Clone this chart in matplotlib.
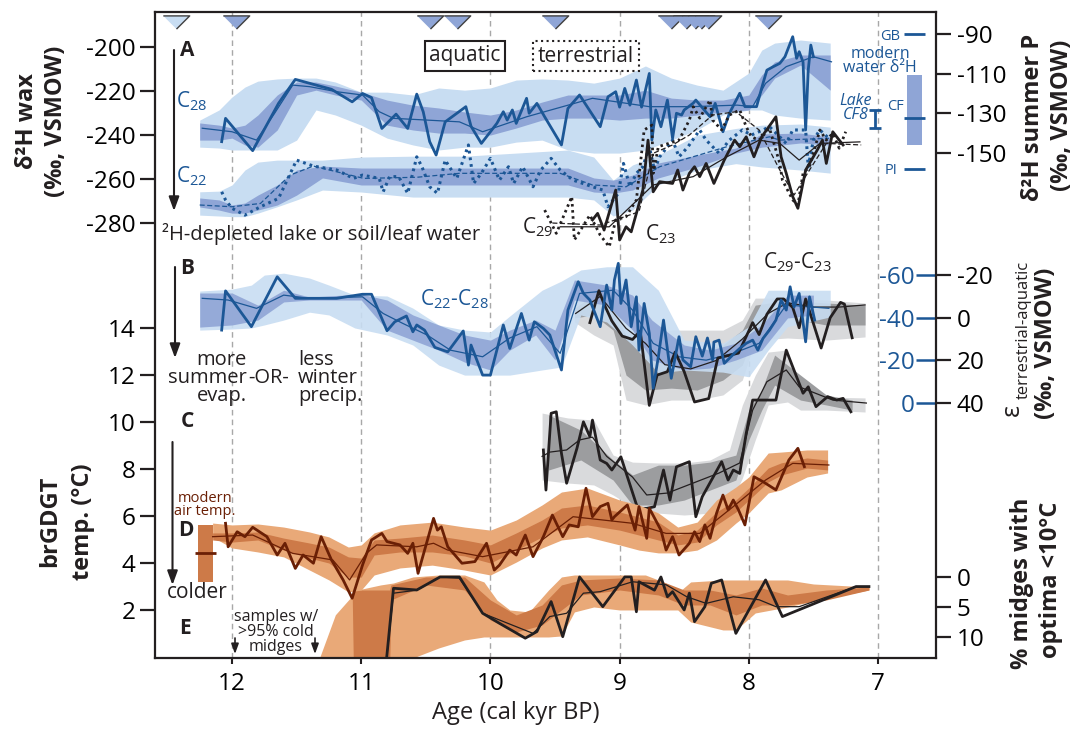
import numpy as np
import matplotlib
matplotlib.use("Agg")
import matplotlib.pyplot as plt

plt.rcParams['font.family'] = ['Open Sans', 'DejaVu Sans']
plt.rcParams['mathtext.fontset'] = 'custom'
plt.rcParams['mathtext.rm'] = 'Open Sans'
plt.rcParams['mathtext.it'] = 'Open Sans:italic'
plt.rcParams['mathtext.bf'] = 'Open Sans:bold'
plt.rcParams['axes.unicode_minus'] = False

BLUE = '#1c5796'
LBLUE = '#c8ddf2'
DBLUE = '#8fa5d6'
BLACK = '#231f20'
LGRAY = '#d9dadc'
DGRAY = '#9c9d9f'
LORANGE = '#e9a978'
DORANGE = '#cd7a48'
BROWN = '#6a1f05'

# ---------------- data (age kyr BP, value) ----------------
# A: d2H wax, aquatic C28 and C22
c28 = [(12.08, -243.0), (12.05, -232.4), (11.84, -247.1), (11.64, -225.6), (11.51, -214.7),
       (11.23, -219.2), (11.07, -224.9), (10.99, -221.1), (10.92, -223.0), (10.84, -237.0),
       (10.73, -230.5), (10.64, -237.0), (10.57, -221.4), (10.52, -229.4), (10.47, -243.0),
       (10.42, -249.1), (10.35, -234.0), (10.19, -227.1), (10.15, -236.0), (10.07, -243.8),
       (9.95, -234.7), (9.90, -229.4), (9.87, -233.2), (9.83, -228.6), (9.80, -234.7),
       (9.72, -223.3), (9.70, -230.1), (9.64, -225.6), (9.58, -231.7), (9.45, -244.5),
       (9.40, -227.9), (9.31, -221.8), (9.15, -236.2), (9.09, -222.6), (9.03, -220.3),
       (9.00, -227.3), (8.96, -218.8), (8.92, -226.4), (8.87, -215.0), (8.83, -227.3),
       (8.77, -212.0), (8.75, -242.3), (8.72, -228.6), (8.68, -236.2), (8.63, -224.1),
       (8.59, -241.5), (8.56, -230.1), (8.52, -230.9), (8.50, -228.6), (8.43, -225.5),
       (8.41, -224.1), (8.30, -231.7), (8.26, -225.6), (8.20, -238.5), (8.15, -230.1),
       (8.07, -221.0), (8.03, -227.1), (7.94, -227.1), (7.89, -216.5), (7.86, -210.5),
       (7.81, -208.9), (7.76, -207.4), (7.72, -204.4), (7.66, -195.3), (7.63, -205.1),
       (7.61, -202.1), (7.58, -206.8), (7.56, -237.7), (7.54, -210.5), (7.52, -199.1),
       (7.50, -204.4)]
c28_med = [(12.23, -236.9), (12.00, -238.5), (11.81, -242.3), (11.67, -230.1), (11.53, -217.3),
           (11.40, -218.0), (11.19, -220.3), (10.99, -221.8), (10.86, -229.4), (10.75, -232.4),
           (10.49, -233.2), (10.24, -234.0), (10.06, -238.5), (9.72, -231.7), (9.21, -223.3),
           (8.77, -227.1), (8.44, -227.1), (8.09, -226.4), (7.97, -227.1), (7.87, -216.5),
           (7.71, -208.9), (7.50, -204.4), (7.36, -206.7)]
# age, outer top, outer bottom, inner top, inner bottom
c28_band = [(12.25, -233.2, -245.5, -234.5, -242.3), (12.10, -228.6, -245.9, -235.5, -242.3),
            (12.00, -222.7, -246.8, -236.8, -241.4), (11.90, -218.2, -246.8, -235.5, -244.5),
            (11.80, -215.5, -246.8, -230.9, -245.5), (11.65, -214.5, -246.8, -221.8, -237.7),
            (11.50, -214.1, -242.3, -215.9, -221.8), (11.35, -214.1, -228.6, -215.9, -219.6),
            (11.20, -215.9, -230.9, -217.7, -221.8), (11.00, -220.5, -235.5, -220.5, -224.1),
            (10.80, -220.5, -241.4, -224.1, -235.5), (10.60, -221.8, -244.5, -226.4, -237.7),
            (10.40, -218.6, -246.8, -227.7, -239.1), (10.20, -219.6, -245.5, -229.5, -239.1),
            (10.00, -218.6, -245.5, -230.9, -240.0), (9.80, -215.0, -243.2, -228.6, -236.8),
            (9.60, -214.5, -242.3, -225.0, -233.2), (9.40, -215.0, -246.8, -221.8, -232.3),
            (9.20, -216.4, -248.2, -221.8, -232.3), (9.00, -214.1, -248.2, -221.8, -233.2),
            (8.80, -208.6, -246.8, -219.6, -232.3), (8.60, -214.1, -242.3, -223.2, -232.3),
            (8.40, -217.3, -237.7, -224.1, -230.9), (8.20, -219.6, -230.9, -224.1, -229.5),
            (8.00, -211.8, -228.6, -221.8, -228.6), (7.90, -201.4, -228.6, -212.7, -221.8),
            (7.80, -198.2, -230.9, -206.8, -214.1), (7.60, -196.8, -232.3, -203.6, -208.2),
            (7.37, -198.2, -233.2, -203.6, -219.6)]

c22 = [(12.08, -265.8), (12.05, -269.5), (12.00, -273.3), (11.90, -276.4), (11.78, -272.6),
       (11.64, -268.8), (11.50, -251.4), (11.37, -254.1), (11.19, -255.9), (11.06, -259.7),
       (10.99, -258.2), (10.86, -259.7), (10.83, -265.8), (10.78, -258.9), (10.71, -258.9),
       (10.64, -266.5), (10.57, -249.9), (10.53, -254.4), (10.47, -263.5), (10.41, -266.5),
       (10.35, -251.4), (10.26, -259.7), (10.17, -244.5), (10.13, -262.0), (10.07, -257.4),
       (10.00, -250.6), (9.93, -260.5), (9.86, -254.4), (9.82, -262.0), (9.75, -254.4),
       (9.67, -263.5), (9.61, -255.9), (9.53, -250.6), (9.46, -255.9), (9.36, -260.5),
       (9.21, -263.5), (9.13, -265.0), (9.09, -272.6), (9.01, -266.5), (8.97, -252.9),
       (8.92, -263.5), (8.87, -257.4), (8.82, -254.4), (8.77, -245.3), (8.73, -255.9),
       (8.69, -249.9), (8.59, -242.3), (8.54, -249.9), (8.47, -245.3), (8.38, -237.7),
       (8.33, -242.3), (8.23, -248.3), (8.15, -242.3), (8.05, -237.7), (7.98, -240.0),
       (7.89, -237.7), (7.84, -236.2), (7.71, -243.8), (7.66, -237.7), (7.56, -237.7),
       (7.54, -254.4), (7.50, -242.3), (7.45, -237.7), (7.38, -241.5)]
c22_med = [(12.25, -271.8), (12.00, -272.6), (11.78, -271.1), (11.55, -258.2), (11.37, -254.1),
           (11.19, -256.7), (10.98, -259.7), (10.57, -259.2), (10.24, -257.4), (9.46, -257.4),
           (9.21, -262.7), (8.95, -263.5), (8.69, -254.4), (8.17, -245.3), (7.84, -240.8),
           (7.76, -242.3), (7.38, -241.5)]
c22_band = [(12.25, -265.8, -276.4, -268.6, -272.7), (12.10, -265.5, -276.8, -269.5, -274.1),
            (12.00, -262.7, -277.1, -271.8, -275.5), (11.90, -255.9, -277.1, -270.9, -275.5),
            (11.80, -252.3, -275.5, -267.3, -274.1), (11.65, -251.4, -272.6, -262.7, -271.8),
            (11.50, -251.4, -269.5, -255.9, -267.3), (11.30, -251.4, -265.0, -254.1, -259.5),
            (11.00, -250.0, -265.9, -255.0, -262.7), (10.60, -249.6, -268.2, -255.0, -262.7),
            (10.20, -249.6, -268.2, -255.0, -262.7), (9.80, -248.2, -268.2, -255.0, -262.7),
            (9.40, -246.8, -268.2, -255.0, -262.7), (9.20, -250.0, -269.5, -259.5, -265.9),
            (9.05, -260.5, -276.8, -260.5, -266.4), (8.90, -253.6, -274.1, -258.2, -265.0),
            (8.70, -249.1, -262.7, -252.7, -259.5), (8.40, -240.0, -256.0, -249.1, -254.5),
            (8.10, -237.0, -253.0, -245.9, -248.2), (7.90, -235.5, -254.5, -239.5, -245.5),
            (7.60, -235.0, -255.9, -239.1, -243.6), (7.37, -236.4, -257.3, -240.9, -244.5)]

# A: terrestrial C29 (dotted) and C23 (solid)
c29 = [(9.58, -274.1), (9.49, -284.7), (9.37, -268.0), (9.35, -287.7), (9.23, -276.4),
       (9.15, -285.5), (9.08, -290.8), (9.03, -278.6), (8.95, -277.1), (8.87, -269.5),
       (8.81, -237.7), (8.75, -235.5), (8.74, -257.4), (8.70, -245.3), (8.54, -242.3),
       (8.46, -233.2), (8.43, -227.1), (8.38, -232.3), (8.30, -224.1), (8.28, -233.2),
       (8.21, -237.7), (8.15, -230.9), (8.07, -228.6), (8.02, -236.2), (7.98, -240.8),
       (7.92, -242.3), (7.84, -236.9), (7.76, -252.9), (7.74, -260.5), (7.66, -269.5),
       (7.62, -271.8), (7.58, -257.4), (7.53, -254.4), (7.45, -237.7), (7.40, -242.3),
       (7.35, -239.2), (7.30, -246.0), (7.25, -238.5)]
c29_med = [(9.52, -280.0), (9.15, -280.9), (8.85, -274.9), (8.74, -248.3), (8.59, -244.5),
           (8.46, -240.0), (8.28, -230.9), (8.10, -229.4), (7.92, -237.7), (7.76, -255.9),
           (7.65, -267.3), (7.53, -255.9), (7.40, -243.8), (7.13, -244.5)]
c23 = [(9.21, -278.6), (9.17, -275.6), (9.12, -283.2), (9.03, -265.0), (9.00, -287.7),
       (8.95, -281.7), (8.91, -284.0), (8.87, -275.6), (8.82, -265.0), (8.78, -242.3),
       (8.74, -265.8), (8.69, -261.2), (8.59, -262.0), (8.55, -255.9), (8.51, -265.0),
       (8.46, -257.4), (8.42, -254.4), (8.38, -258.9), (8.33, -252.9), (8.27, -262.0),
       (8.19, -251.4), (8.11, -242.3), (8.07, -245.3), (8.02, -240.8), (7.96, -249.9),
       (7.90, -240.8), (7.79, -231.7), (7.75, -249.9), (7.71, -257.4), (7.66, -268.0),
       (7.62, -273.3), (7.56, -255.9), (7.53, -252.9), (7.47, -246.8), (7.43, -242.3),
       (7.40, -252.9), (7.35, -238.5), (7.30, -242.3), (7.27, -244.5)]
c23_med = [(9.46, -281.7), (9.08, -281.7), (8.74, -262.7), (8.43, -258.9), (8.17, -249.9),
           (7.92, -242.3), (7.76, -243.8), (7.61, -251.4), (7.45, -243.8), (7.14, -243.1)]

# A right axis: modern water d2H (summer P)
gb_val, cf_val, pi_val = -90.0, -132.6, -158.4
cf_range = (-146.1, -110.7)
cf8_val, cf8_err = -132.9, 4.5

# top triangles: dated levels
tri_ages = [12.435, 11.97, 10.47, 10.26, 9.50, 8.60, 8.484, 8.42, 8.368, 8.316, 7.852]

# B: C22-C28 (blue) and C29-C23 (black), permil
b_blue = [(12.08, -34.2), (12.05, -52.6), (11.85, -35.8), (11.65, -59.2), (11.51, -49.1),
          (11.19, -49.1), (10.99, -51.0), (10.92, -51.0), (10.80, -33.9), (10.74, -38.1),
          (10.65, -40.8), (10.60, -33.4), (10.57, -36.6), (10.51, -34.2), (10.43, -26.1),
          (10.33, -24.0), (10.21, -33.8), (10.17, -17.8), (10.15, -27.2), (10.06, -13.1),
          (10.00, -13.1), (9.90, -36.6), (9.85, -25.6), (9.76, -42.0), (9.70, -29.5),
          (9.66, -38.1), (9.59, -35.0), (9.54, -31.9), (9.45, -15.5), (9.40, -43.6),
          (9.32, -56.9), (9.28, -51.4), (9.23, -48.3), (9.15, -35.8), (9.10, -55.3),
          (9.06, -43.6), (9.04, -57.7), (9.01, -65.5), (8.99, -46.7), (8.95, -57.7),
          (8.91, -35.8), (8.87, -49.8), (8.85, -24.8), (8.81, -46.7), (8.77, -32.7),
          (8.74, -6.9), (8.70, -21.7), (8.66, -38.9), (8.60, -11.6), (8.54, -31.1),
          (8.51, -20.2), (8.45, -17.0), (8.41, -31.1), (8.36, -22.0), (8.32, -30.5),
          (8.28, -20.2), (8.27, -28.6), (8.23, -29.5), (8.19, -18.6), (8.11, -23.4),
          (8.07, -25.6), (8.02, -28.0), (7.97, -29.5), (7.93, -24.8), (7.89, -30.3),
          (7.84, -34.2), (7.79, -38.9), (7.75, -48.3), (7.71, -43.6), (7.68, -54.5),
          (7.65, -45.0), (7.61, -51.4), (7.56, -28.7), (7.53, -49.8), (7.49, -38.9)]
b_blue_med = [(12.23, -49.1), (12.03, -48.3), (11.81, -44.4), (11.60, -50.6), (11.40, -49.1),
              (10.99, -49.8), (10.83, -42.0), (10.68, -37.4), (10.49, -31.9), (10.31, -24.8),
              (10.06, -21.7), (9.85, -30.5), (9.64, -35.8), (9.46, -23.3), (9.31, -51.4),
              (9.05, -52.9), (8.90, -43.6), (8.74, -28.0), (8.54, -21.7), (8.33, -20.1),
              (8.12, -23.3), (7.92, -28.0), (7.71, -46.0), (7.38, -44.4)]
b_blue_outer = [(12.25, -52.5, -34.2), (12.00, -53.4, -34.7), (11.85, -55.3, -35.2),
                (11.75, -60.0, -36.6), (11.60, -60.9, -38.9), (11.40, -58.6, -42.6),
                (11.25, -55.3, -41.3), (11.05, -50.6, -35.2), (10.80, -50.2, -31.9),
                (10.60, -44.5, -27.2), (10.40, -36.6, -17.8), (10.20, -34.2, -13.1),
                (10.00, -33.3, -13.1), (9.85, -40.8, -13.1), (9.60, -52.9, -15.5),
                (9.45, -57.2, -16.9), (9.30, -62.4, -41.3), (9.10, -63.9, -38.0),
                (8.90, -63.9, -27.2), (8.70, -52.9, -14.1), (8.50, -29.5, -15.5),
                (8.20, -28.1, -14.5), (8.00, -35.8, -12.3), (7.85, -52.9, -24.8),
                (7.70, -52.9, -35.8), (7.37, -52.9, -40.4)]
b_blue_inner = [(12.25, -51.6, -35.6), (12.00, -51.6, -36.6), (11.80, -45.9, -38.9),
                (11.60, -52.9, -47.4), (11.40, -49.7, -48.3), (11.00, -51.1, -48.3),
                (10.80, -48.3, -34.2), (10.60, -41.3, -29.5), (10.40, -36.6, -24.8),
                (10.20, -31.9, -19.2), (10.00, -29.5, -15.5), (9.85, -34.2, -24.8),
                (9.65, -38.9, -31.9), (9.50, -34.2, -20.2), (9.35, -57.7, -48.3),
                (9.10, -55.3, -45.9), (8.90, -50.6, -34.2), (8.75, -38.9, -20.2),
                (8.50, -27.2, -15.5), (8.30, -24.8, -16.4), (8.10, -28.1, -20.2),
                (7.90, -36.6, -24.8), (7.70, -50.6, -39.9), (7.50, -50.6, -41.3)]
b_black = [(9.23, -37.7), (9.16, -52.7), (9.12, -46.4), (9.06, -38.5), (8.98, -31.4),
           (8.90, -29.8), (8.84, -33.8), (8.77, 1.1), (8.71, -13.1), (8.63, -14.7),
           (8.57, -23.9), (8.50, -14.7), (8.42, -0.5), (8.31, -2.1), (8.24, -21.1),
           (8.08, -23.4), (7.97, -37.7), (7.92, -32.1), (7.86, -41.6), (7.78, -48.8),
           (7.73, -48.8), (7.66, -44.8), (7.61, -35.3), (7.56, -48.8), (7.44, -25.8),
           (7.37, -40.0), (7.29, -47.2), (7.26, -46.4), (7.20, -30.6)]
b_black_med = [(9.34, -42.0), (9.15, -50.0), (8.95, -35.0), (8.80, -28.0), (8.65, -18.0),
               (8.45, -16.0), (8.25, -20.0), (8.05, -30.0), (7.85, -42.0), (7.70, -47.0),
               (7.50, -45.0), (7.30, -45.0), (7.10, -46.0)]
b_black_band = [(9.35, -49.2, -38.0, -44.5, -39.9), (9.20, -52.9, -31.9, -50.6, -41.3),
                (9.05, -48.3, -27.2, -43.6, -34.2), (8.95, -34.2, -1.4, -31.9, -13.1),
                (8.80, -31.9, 0.9, -27.2, -6.1), (8.60, -34.2, -1.4, -27.2, -7.0),
                (8.40, -34.2, -1.4, -24.8, -6.1), (8.20, -34.2, -3.8, -27.2, -10.8),
                (8.05, -38.9, -10.8, -34.2, -17.8), (7.95, -49.2, -29.5, -45.9, -34.2),
                (7.70, -49.2, -30.5, -48.3, -39.9), (7.40, -48.3, -29.5, -46.9, -36.6),
                (7.10, -46.9, -31.0, -45.9, -36.6)]

# C: epsilon terrestrial-aquatic, permil
c_eps = [(9.59, 62.0), (9.57, 80.8), (9.53, 44.8), (9.49, 44.1), (9.45, 63.6), (9.41, 77.6),
         (9.33, 61.2), (9.28, 48.8), (9.23, 55.8), (9.21, 48.0), (9.15, 66.7), (9.10, 68.3),
         (9.06, 71.4), (8.99, 65.2), (8.86, 89.4), (8.79, 89.4), (8.73, 88.6), (8.66, 71.4),
         (8.61, 85.5), (8.56, 69.9), (8.46, 67.5), (8.41, 93.3), (8.36, 83.9), (8.21, 67.5),
         (8.16, 76.1), (8.12, 71.4), (8.07, 73.0), (8.02, 54.2), (7.97, 38.6), (7.79, 38.6),
         (7.71, 15.2), (7.63, 27.7), (7.58, 35.4), (7.54, 32.4), (7.48, 41.7), (7.39, 37.0),
         (7.32, 38.6), (7.27, 37.8), (7.21, 44.1)]
c_eps_med = [(9.60, 65.0), (9.54, 63.0), (9.41, 62.0), (9.31, 57.3), (9.21, 56.0), (9.10, 65.0),
             (8.90, 74.7), (8.79, 83.1), (8.63, 82.2), (8.43, 77.5), (8.23, 72.8), (8.07, 68.1),
             (7.97, 43.3), (7.86, 30.0), (7.71, 24.5), (7.61, 32.4), (7.35, 38.6), (7.09, 40.0)]
c_eps_outer = [(9.60, 44.7, 76.1), (9.40, 47.0, 77.5), (9.20, 48.0, 78.4), (9.05, 64.4, 83.1),
               (8.90, 67.7, 88.8), (8.70, 68.1, 91.6), (8.50, 68.1, 92.5), (8.30, 66.7, 91.6),
               (8.15, 62.0, 87.8), (8.05, 40.9, 75.2), (7.95, 26.9, 57.3), (7.85, 16.1, 40.9),
               (7.70, 15.1, 39.5), (7.60, 36.2, 43.3), (7.40, 37.2, 43.3), (7.10, 37.6, 44.2)]
c_eps_inner = [(9.55, 45.6, 71.4), (9.30, 52.7, 66.7), (9.05, 66.7, 76.1), (8.90, 73.7, 87.8),
               (8.70, 69.1, 87.8), (8.50, 69.1, 85.5), (8.30, 67.7, 80.8), (8.10, 64.4, 76.1),
               (8.00, 43.3, 57.3), (7.90, 33.9, 43.3), (7.80, 17.5, 31.6), (7.60, 26.9, 38.6),
               (7.40, 36.2, 40.9), (7.20, 38.6, 43.3)]

# D: brGDGT temperature, deg C
d_temp = [(12.05, 5.69), (12.03, 4.69), (11.96, 5.33), (11.90, 5.12), (11.84, 5.52),
          (11.73, 5.12), (11.65, 4.34), (11.59, 4.84), (11.51, 3.77), (11.45, 4.34),
          (11.37, 3.99), (11.31, 5.12), (11.23, 4.13), (11.14, 3.28), (11.07, 2.50),
          (10.99, 3.91), (10.92, 4.98), (10.84, 5.26), (10.80, 4.91), (10.70, 4.77),
          (10.64, 4.41), (10.60, 4.84), (10.56, 3.56), (10.44, 5.90), (10.41, 5.40),
          (10.38, 5.54), (10.33, 4.69), (10.22, 3.99), (10.12, 4.06), (10.03, 4.84),
          (9.97, 3.70), (9.93, 3.91), (9.85, 4.55), (9.80, 4.34), (9.73, 5.19),
          (9.67, 4.27), (9.59, 5.12), (9.52, 6.04), (9.44, 5.12), (9.39, 5.62),
          (9.32, 5.54), (9.26, 7.18), (9.21, 5.97), (9.15, 6.40), (9.09, 6.54),
          (9.06, 5.83), (9.04, 5.97), (8.94, 6.47), (8.88, 5.40), (8.85, 6.40),
          (8.79, 5.05), (8.77, 6.33), (8.68, 5.40), (8.64, 4.55), (8.59, 5.12),
          (8.54, 4.34), (8.46, 4.84), (8.42, 5.33), (8.38, 4.91), (8.34, 5.62),
          (8.30, 5.05), (8.25, 6.11), (8.20, 6.89), (8.16, 6.26), (8.12, 6.68),
          (8.08, 6.26), (8.03, 5.62), (7.96, 7.67), (7.89, 7.46), (7.79, 7.11),
          (7.69, 8.38), (7.62, 8.88), (7.57, 8.10)]
d_temp_med = [(12.15, 5.12), (11.84, 5.19), (11.53, 4.41), (11.22, 4.13), (11.09, 3.28),
              (10.96, 4.41), (10.88, 4.77), (10.57, 4.69), (10.44, 4.84), (10.33, 4.55),
              (10.06, 4.27), (9.67, 4.69), (9.36, 5.97), (8.90, 5.69), (8.64, 5.26),
              (8.38, 5.26), (8.12, 6.40), (7.87, 7.53), (7.66, 8.24), (7.38, 8.17)]
d_temp_band = [(12.15, 5.70, 5.11, 5.28, 4.98), (12.00, 5.62, 4.64, 5.28, 4.89),
               (11.80, 5.66, 4.47, 5.32, 4.98), (11.60, 5.53, 4.26, 5.06, 4.55),
               (11.40, 5.32, 3.70, 4.85, 4.21), (11.25, 5.11, 3.28, 4.68, 4.00),
               (11.10, 4.68, 2.77, 4.26, 3.40), (11.00, 4.77, 2.85, 4.21, 3.40),
               (10.90, 5.28, 3.49, 4.98, 4.34), (10.70, 5.62, 3.79, 5.06, 4.47),
               (10.45, 5.74, 3.91, 5.19, 4.47), (10.20, 5.53, 3.70, 4.98, 4.30),
               (10.00, 5.40, 3.49, 4.77, 4.00), (9.80, 5.83, 4.04, 5.28, 4.55),
               (9.60, 6.47, 4.64, 5.83, 5.11), (9.45, 7.02, 4.98, 6.34, 5.49),
               (9.25, 7.19, 5.11, 6.47, 5.62), (9.00, 6.68, 4.77, 6.17, 5.40),
               (8.85, 6.47, 4.55, 5.96, 5.19), (8.70, 6.13, 4.43, 5.74, 4.98),
               (8.55, 5.53, 4.43, 5.19, 4.77), (8.40, 5.74, 4.55, 5.40, 4.89),
               (8.25, 6.68, 4.98, 6.17, 5.62), (8.10, 7.23, 5.70, 6.68, 6.17),
               (8.00, 7.66, 6.13, 7.19, 6.68), (7.85, 8.68, 6.98, 8.04, 7.45),
               (7.75, 8.72, 7.11, 8.26, 7.74), (7.55, 8.81, 7.66, 8.47, 8.04),
               (7.39, 8.81, 7.83, 8.38, 7.96)]
modern_air = (3.19, 5.62, 4.44)

# E: % midges with optima < 10 deg C
e_midge = [(10.81, 15.0), (10.75, 1.88), (10.57, 2.17), (10.39, 0.0), (10.24, 0.0),
           (10.06, 6.05), (9.93, 7.72), (9.73, 10.2), (9.64, 9.1), (9.53, 4.1), (9.44, 9.95),
           (9.31, 0.0), (9.13, 4.95), (8.96, 0.0), (8.91, 0.0), (8.87, 5.8), (8.85, 0.8),
           (8.73, 2.2), (8.68, 0.0), (8.63, 3.3), (8.59, 2.45), (8.50, 5.5), (8.46, 2.7),
           (8.42, 7.45), (8.34, 4.95), (8.29, 1.05), (8.21, 0.5), (8.10, 9.4), (7.87, 0.5),
           (7.74, 6.6), (7.17, 1.6), (7.07, 1.6)]
e_midge_med = [(10.81, 15.0), (10.75, 2.7), (10.57, 2.2), (10.39, 0.0), (10.24, 0.2),
               (10.06, 6.05), (9.67, 9.4), (9.54, 6.6), (9.41, 6.05), (9.28, 2.7), (9.15, 2.45),
               (8.90, 0.8), (8.64, 1.3), (8.48, 3.3), (8.33, 4.4), (8.12, 3.3), (7.92, 3.8),
               (7.79, 4.95), (7.61, 4.95), (7.17, 1.6), (7.07, 1.6)]
e_midge_outer = [(11.34, 14.5, 15.5), (11.20, 6.3, 15.5), (11.03, 2.17, 15.5), (10.85, 1.33, 15.5),
                 (10.75, 1.0, 15.5), (10.60, 0.0, 13.5), (10.40, -0.33, 11.83), (10.20, -0.33, 10.5),
                 (10.05, 0.83, 10.0), (9.95, 3.83, 10.0), (9.85, 5.5, 10.0), (9.70, 5.83, 10.0),
                 (9.55, 2.17, 10.0), (9.45, 0.0, 9.83), (9.35, -0.33, 5.83), (9.20, -0.33, 5.0),
                 (9.00, -0.33, 5.5), (8.80, -0.33, 5.5), (8.70, 0.5, 5.5), (8.55, 2.67, 5.5),
                 (8.45, 0.83, 7.5), (8.20, 0.5, 8.83), (8.10, 0.5, 8.83), (7.95, 0.5, 6.0),
                 (7.70, 0.5, 5.0), (7.50, 1.17, 4.0), (7.07, 1.67, 2.17)]
e_midge_inner = [(11.07, 2.17, 2.2), (11.06, 2.17, 15.5), (10.78, 2.17, 15.5), (10.77, 1.33, 3.83),
                 (10.50, 0.0, 1.33), (10.20, 0.0, 2.17), (10.00, 3.83, 7.17), (9.80, 6.33, 9.17),
                 (9.60, 4.67, 8.0), (9.45, 1.33, 5.5), (9.30, 0.5, 3.0), (9.00, 0.17, 2.17),
                 (8.70, 0.5, 3.0), (8.50, 2.17, 4.67), (8.30, 2.17, 4.67), (8.10, 3.0, 6.33),
                 (7.90, 1.83, 4.67), (7.70, 3.0, 4.67), (7.40, 2.17, 3.83), (7.07, 1.67, 2.17)]


def cols(rows):
    return np.array(rows, dtype=float).T


# ---------------- figure ----------------
W, H = 1087.0, 730.0
fig = plt.figure(figsize=(W / 100, H / 100), dpi=100)


def F(x, y):
    return (x / W, 1 - y / H)


def label(x, y, s, **kw):
    fig.text(x / W, 1 - y / H, s, **kw)


ax = fig.add_axes([155 / W, 1 - 657.5 / H, (936 - 155) / W, (657.5 - 12.3) / H])
ax.set_xlim(12.596, 6.551)
ax.set_ylim(-477.5, -184.2)
for s in ax.spines.values():
    s.set_visible(False)


def twin(lo, hi):
    t = ax.twinx()
    t.set_ylim(lo, hi)
    for s in t.spines.values():
        s.set_visible(False)
    t.patch.set_visible(False)
    return t


axB = twin(119.3, -183.2)    # epsilon C22-C28 (blue, inside)
axC = twin(159.3, -143.2)    # epsilon terrestrial-aquatic
axE = twin(13.42, -94.1)     # % midges
axD = twin(-0.02, 27.43)     # brGDGT temp
axP = twin(-405.2, -79.03)   # summer P

for a in [12, 11, 10, 9, 8, 7]:
    ax.axvline(a, color='#a8a8a8', lw=1.0, ls=(0, (4, 3)), zorder=0)

# ---- panel A ----
for band in (c28_band, c22_band):
    a, oh, ol, ih, il = cols(band)
    ax.fill_between(a, oh, ol, color=LBLUE, lw=0, zorder=1)
for band in (c28_band, c22_band):
    a, oh, ol, ih, il = cols(band)
    ax.fill_between(a, ih, il, color=DBLUE, lw=0, zorder=1.1)
ax.plot(*cols(c28_med), color=BLUE, lw=0.9, zorder=2)
ax.plot(*cols(c22_med), color=BLUE, lw=0.9, ls=(0, (4, 2)), zorder=2)
ax.plot(*cols(c28), color=BLUE, lw=2.0, zorder=3)
ax.plot(*cols(c22), color=BLUE, lw=2.2, ls=(0, (0.9, 1.3)), zorder=3)
ax.plot(*cols(c29_med), color=BLACK, lw=0.9, ls=(0, (4, 2)), zorder=4)
ax.plot(*cols(c23_med), color=BLACK, lw=0.9, zorder=4)
ax.plot(*cols(c29), color=BLACK, lw=2.0, ls=(0, (0.9, 1.3)), zorder=5)
ax.plot(*cols(c23), color=BLACK, lw=2.0, zorder=5)

tri = [(-1, 0.5), (1, 0.5), (0, -0.5)]
ax.plot(tri_ages[:1], [0.985], transform=ax.get_xaxis_transform(), ls='none', marker=tri,
        ms=19, mfc=LBLUE, mec='#404040', mew=1.0, clip_on=False, zorder=6)
ax.plot(tri_ages[1:], [0.985] * (len(tri_ages) - 1), transform=ax.get_xaxis_transform(),
        ls='none', marker=tri, ms=19, mfc=DBLUE, mec='#404040', mew=1.0, clip_on=False, zorder=6)

# ---- panel B ----
a, oh, ol, ih, il = cols(b_black_band)
axB.fill_between(a, oh, ol, color=LGRAY, lw=0)
axB.fill_between(a, ih, il, color=DGRAY, lw=0)
a, t, b = cols(b_blue_outer)
axB.fill_between(a, t, b, color=LBLUE, lw=0, alpha=0.9)
a, t, b = cols(b_blue_inner)
axB.fill_between(a, t, b, color=DBLUE, lw=0, alpha=0.9)
axB.plot(*cols(b_black_med), color=BLACK, lw=0.9)
axB.plot(*cols(b_blue_med), color=BLUE, lw=0.9)
axB.plot(*cols(b_black), color=BLACK, lw=2.0)
axB.plot(*cols(b_blue), color=BLUE, lw=2.0)

# ---- panel C ----
a, t, b = cols(c_eps_outer)
axC.fill_between(a, t, b, color=LGRAY, lw=0)
a, t, b = cols(c_eps_inner)
axC.fill_between(a, t, b, color=DGRAY, lw=0)
axC.plot(*cols(c_eps_med), color=BLACK, lw=0.9)
axC.plot(*cols(c_eps), color=BLACK, lw=2.0)

# ---- panel E ----
a, t, b = cols(e_midge_outer)
axE.fill_between(a, t, b, color=LORANGE, lw=0)
a, t, b = cols(e_midge_inner)
axE.fill_between(a, t, b, color=DORANGE, lw=0)
axE.plot(*cols(e_midge_med), color=BLACK, lw=0.9)
axE.plot(*cols(e_midge), color=BLACK, lw=2.0)

# ---- panel D ----
a, oh, ol, ih, il = cols(d_temp_band)
axD.fill_between(a, oh, ol, color=LORANGE, lw=0)
axD.fill_between(a, ih, il, color=DORANGE, lw=0)
axD.plot(*cols(d_temp_med), color=BROWN, lw=0.9)
axD.plot(*cols(d_temp), color=BROWN, lw=2.0)
axD.fill_between([12.263, 12.147], modern_air[0], modern_air[1], color=DORANGE, lw=0)
axD.hlines(modern_air[2], 12.29, 12.12, color=BROWN, lw=2)

# ---- modern water d2H marks ----
axP.hlines([gb_val, pi_val], 6.795, 6.640, color=BLUE, lw=2)
axP.fill_between([6.772, 6.656], cf_range[0], cf_range[1], color=DBLUE, lw=0)
axP.hlines(cf_val, 6.795, 6.640, color=BLUE, lw=2)
axP.errorbar([7.027], [cf8_val], yerr=cf8_err, fmt='none', ecolor=BLUE, elinewidth=2,
             capsize=4, capthick=2)

# ---------------- axes, ticks ----------------
for s in axP.spines.values():
    s.set_visible(True)
    s.set_linewidth(1.6)
    s.set_color(BLACK)

ax.set_xticks([12, 11, 10, 9, 8, 7])
ax.tick_params(axis='x', direction='out', length=4.5, width=1.5, color=BLACK,
               labelsize=17.5, pad=6)
ax.set_yticks([-200, -220, -240, -260, -280])
ax.tick_params(axis='y', direction='out', length=10.8, width=1.6, color=BLACK,
               labelsize=17.5, pad=3)

axD.yaxis.tick_left()
axD.set_yticks([2, 4, 6, 8, 10, 12, 14])
axD.tick_params(axis='y', direction='out', length=10.8, width=1.6, color=BLACK,
                labelsize=17.5, pad=3)

axP.set_yticks([-90, -110, -130, -150])
axP.tick_params(axis='y', direction='out', length=10.8, width=1.6, color=BLACK,
                labelsize=17.5, pad=4)

axC.set_yticks([-20, 0, 20, 40])
axC.tick_params(axis='y', direction='out', length=10.8, width=1.6, color=BLACK,
                labelsize=17.5, pad=4)

axE.set_yticks([0, 5, 10])
axE.tick_params(axis='y', direction='out', length=10.8, width=1.6, color=BLACK,
                labelsize=17.5, pad=4)

axB.set_yticks([-60, -40, -20, 0])
axB.tick_params(axis='y', direction='in', length=14.4, width=1.8, color=BLUE,
                labelcolor=BLUE, labelsize=17.5, pad=-15.5)
for t in axB.get_yticklabels():
    t.set_horizontalalignment('right')

# ---------------- labels ----------------
bold = dict(fontsize=17, fontweight='bold', rotation=90, ha='center', va='center', color=BLACK)
label(27, 121, 'δ²H wax', **bold)
label(56, 121, '(‰, VSMOW)', **bold)
label(50, 521, 'brGDGT', **bold)
label(83, 522, 'temp. (°C)', **bold)
label(1033, 117, 'δ²H summer P', **bold)
label(1062, 115, '(‰, VSMOW)', **bold)
label(1046, 343, '(‰, VSMOW)', **bold)
label(1022, 583, '% midges with', **bold)
label(1051, 580, 'optima <10°C', **bold)
label(1012, 410, 'ε', fontsize=18, rotation=90, ha='center', va='center', color=BLACK)
label(1024, 330, 'terrestrial-aquatic', fontsize=12, rotation=90, ha='center', va='center',
      color=BLACK)
label(516, 713, 'Age (cal kyr BP)', fontsize=17, ha='center', va='center', color=BLACK)

pan = dict(fontsize=15, fontweight='bold', ha='center', va='center', color=BLACK)
label(187, 50, 'A', **pan)
label(187, 268, 'B', **pan)
label(187, 422, 'C', **pan)
label(186, 530, 'D', **pan)
label(185, 629, 'E', **pan)

label(176, 107, r'C$_{28}$', fontsize=15, color=BLUE, va='baseline')
label(176, 182, r'C$_{22}$', fontsize=15, color=BLUE, va='baseline')
label(162, 240, '²H-depleted lake or soil/leaf water', fontsize=14.5, color=BLACK,
      va='baseline')
label(522, 233, r'C$_{29}$', fontsize=15, color=BLACK, va='baseline')
label(645, 240, r'C$_{23}$', fontsize=15, color=BLACK, va='baseline')
label(420, 305, r'C$_{22}$-C$_{28}$', fontsize=15, color=BLUE, va='baseline')
label(763, 268, r'C$_{29}$-C$_{23}$', fontsize=15, color=BLACK, va='baseline')

label(465, 56, 'aquatic', fontsize=15, ha='center', va='center', color=BLACK,
      bbox=dict(boxstyle='square,pad=0.22', fc='white', ec=BLACK, lw=1.5))
label(586, 56, 'terrestrial', fontsize=15, ha='center', va='center', color=BLACK,
      bbox=dict(boxstyle='square,pad=0.22', fc='white', ec=BLACK, lw=1.5, ls=':'))

label(247, 378, 'more\nsummer\nevap.', fontsize=14.5, ha='right', va='center',
      multialignment='right', linespacing=0.85, color=BLACK)
label(269, 378, '-OR-', fontsize=14.5, ha='center', va='center', color=BLACK)
label(298, 378, 'less\nwinter\nprecip.', fontsize=14.5, ha='left', va='center',
      linespacing=0.85, color=BLACK)
label(205, 505, 'modern\nair temp.', fontsize=10.5, ha='center', va='center',
      linespacing=0.9, color=BROWN)
label(197, 593, 'colder', fontsize=15, ha='center', va='center', color=BLACK)
label(276, 632, 'samples w/\n>95% cold\nmidges', fontsize=11.5, ha='center', va='center',
      linespacing=0.95, color=BLACK)

label(890, 37, 'GB', fontsize=10.5, ha='center', va='center', color=BLUE)
label(880, 61, 'modern\nwater δ²H', fontsize=11.5, ha='center', va='center',
      linespacing=0.9, color=BLUE)
label(856, 108, 'Lake\nCF8', fontsize=11.5, style='italic', ha='center', va='center',
      linespacing=0.9, color=BLUE)
label(896, 106, 'CF', fontsize=10.5, ha='center', va='center', color=BLUE)
label(891, 170, 'PI', fontsize=10.5, ha='center', va='center', color=BLUE)


def arrow(x, y0, y1, lw=1.5, ms=14):
    ax.annotate('', xy=F(x, y1), xytext=F(x, y0), xycoords='figure fraction',
                textcoords='figure fraction',
                arrowprops=dict(arrowstyle='-|>,head_length=0.6,head_width=0.22', color=BLACK,
                                lw=lw, mutation_scale=ms, shrinkA=0, shrinkB=0))


arrow(174, 50, 211)
arrow(175, 267, 358)
arrow(172.5, 442, 585)
arrow(235, 638, 654, lw=1.2, ms=10)
arrow(315, 638, 654, lw=1.2, ms=10)

fig.savefig('out.png', dpi=100)
